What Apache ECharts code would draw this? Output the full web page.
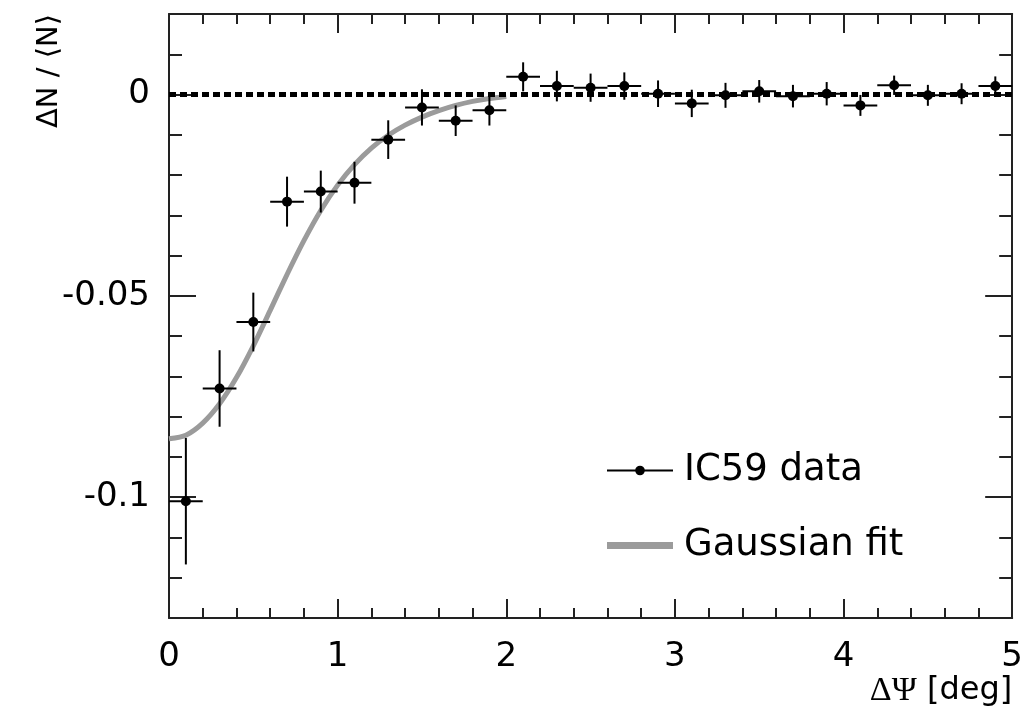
<!DOCTYPE html>
<html>
<head>
<meta charset="utf-8">
<script src="https://cdn.jsdelivr.net/npm/echarts@6/dist/echarts.min.js"></script>
<style>html,body{margin:0;padding:0;background:#fff;}#c{width:1026px;height:709px;}</style>
</head>
<body>
<div id="c"></div>
<script>
// ---- data ----
const xBins = [0.1, 0.3, 0.5, 0.7, 0.9, 1.1, 1.3, 1.5, 1.7, 1.9, 2.1, 2.3, 2.5, 2.7, 2.9, 3.1, 3.3, 3.5, 3.7, 3.9, 4.1, 4.3, 4.5, 4.7, 4.9];
const yValues = [-0.101, -0.073, -0.0565, -0.0266, -0.0241, -0.0219, -0.0112, -0.0032, -0.0065, -0.0039, 0.0044, 0.0021, 0.0017, 0.0021, 0.0002, -0.0022, -0.0002, 0.0008, -0.0004, 0.0002, -0.0027, 0.0023, -0.0002, 0.0002, 0.0021];
const yErrors = [0.0157, 0.0095, 0.0073, 0.0062, 0.0052, 0.0052, 0.0048, 0.0045, 0.0038, 0.0038, 0.0036, 0.0038, 0.0035, 0.0034, 0.0033, 0.0034, 0.0031, 0.0028, 0.0028, 0.0029, 0.0026, 0.0024, 0.0026, 0.0026, 0.0024];
const binHalfWidth = 0.1;
const fitX = [0, 0.1, 0.2, 0.3, 0.4, 0.5, 0.6, 0.7, 0.8, 0.9, 1.0, 1.1, 1.2, 1.3, 1.4, 1.5, 1.6, 1.7, 1.8, 1.9, 2.0];
const fitY = [-0.0855, -0.0846, -0.0816, -0.0768, -0.0703, -0.0624, -0.0536, -0.0447, -0.0363, -0.0288, -0.0225, -0.0174, -0.0133, -0.0101, -0.0076, -0.0056, -0.0040, -0.0027, -0.0017, -0.0010, -0.0005];
const zeroLevel = 0;
const yMajorTicks = [-0.1, -0.05, 0];
const xRange = [0, 5];
const yRange = [-0.13, 0.02];

const FONT = 'DejaVu Sans';
const AX = '#222';

const chart = echarts.init(document.getElementById('c'), null, {renderer: 'canvas'});

const yBase = {type: 'value', min: yRange[0], max: yRange[1], splitLine: {show: false}};
const option = {
  backgroundColor: '#fff',
  animation: false,
  grid: {left: 169, right: 10, top: 14, bottom: 91, containLabel: false},
  legend: {
    orient: 'vertical', left: 601, top: 447, itemWidth: 66, itemHeight: 12, itemGap: 38,
    selectedMode: false,
    textStyle: {fontSize: 37, fontFamily: FONT, color: '#000', padding: [0, 0, 0, 6]},
    data: [
      {name: 'IC59 data', lineStyle: {width: 2, opacity: 1, color: '#000'}},
      {name: 'Gaussian fit', icon: 'path://M0,0 L0.01,0 M0,2.5 L66,2.5 L66,9.5 L0,9.5 Z M0,12 L0.01,12', itemStyle: {color: '#9b9b9b'}}
    ]
  },
  xAxis: [
    {
      type: 'value', min: xRange[0], max: xRange[1], interval: 1, position: 'bottom',
      axisLine: {show: true, onZero: false, lineStyle: {color: AX, width: 2}},
      axisTick: {show: true, inside: true, length: 19, lineStyle: {color: AX, width: 2}},
      minorTick: {show: true, splitNumber: 5, length: 10, lineStyle: {color: AX, width: 2}},
      axisLabel: {fontSize: 34, fontFamily: FONT, color: '#000', margin: 22, showMinLabel: true, showMaxLabel: true},
      splitLine: {show: false},
      name: '{s|ΔΨ}{n| [deg]}', nameLocation: 'end', nameGap: 0,
      nameTextStyle: {
        align: 'right', verticalAlign: 'top', padding: [56, 0, 0, 0], color: '#000', fontSize: 32, fontFamily: FONT,
        rich: {
          s: {fontSize: 34, fontFamily: 'Liberation Serif', color: '#000'},
          n: {fontSize: 32, fontFamily: FONT, color: '#000'}
        }
      }
    },
    {
      type: 'value', min: xRange[0], max: xRange[1], interval: 1, position: 'top',
      axisLine: {show: true, onZero: false, lineStyle: {color: AX, width: 2}},
      axisTick: {show: true, inside: true, length: 19, lineStyle: {color: AX, width: 2}},
      minorTick: {show: true, splitNumber: 5, length: 10, lineStyle: {color: AX, width: 2}},
      axisLabel: {show: false}, splitLine: {show: false}
    }
  ],
  yAxis: [
    Object.assign({}, yBase, {
      position: 'left',
      axisLine: {show: true, onZero: false, lineStyle: {color: AX, width: 2}},
      axisTick: {show: true, inside: true, length: 27, customValues: yMajorTicks, lineStyle: {color: AX, width: 2}},
      axisLabel: {customValues: yMajorTicks, fontSize: 34, fontFamily: FONT, color: '#000', margin: 19},
      name: 'ΔN / ⟨N⟩', nameLocation: 'end', nameGap: 0, nameRotate: 90,
      nameTextStyle: {fontSize: 29, fontFamily: FONT, color: '#000', align: 'right', verticalAlign: 'bottom', padding: [0, 0, 105, 0]}
    }),
    Object.assign({}, yBase, {
      position: 'left', interval: 0.01,
      axisLine: {show: false, onZero: false},
      axisTick: {show: true, inside: true, length: 13, lineStyle: {color: AX, width: 2}},
      axisLabel: {show: false}
    }),
    Object.assign({}, yBase, {
      position: 'right',
      axisLine: {show: true, onZero: false, lineStyle: {color: AX, width: 2}},
      axisTick: {show: true, inside: true, length: 27, customValues: yMajorTicks, lineStyle: {color: AX, width: 2}},
      axisLabel: {show: false}
    }),
    Object.assign({}, yBase, {
      position: 'right', interval: 0.01,
      axisLine: {show: false, onZero: false},
      axisTick: {show: true, inside: true, length: 13, lineStyle: {color: AX, width: 2}},
      axisLabel: {show: false}
    })
  ],
  series: [
    {
      name: 'Gaussian fit', type: 'line', xAxisIndex: 0, yAxisIndex: 0,
      data: fitX.map((x, i) => [x, fitY[i]]),
      symbol: 'none', showSymbol: false, smooth: 0.25,
      lineStyle: {color: '#9b9b9b', width: 5}, itemStyle: {color: '#9b9b9b'}, z: 2
    },
    {
      name: 'errors', type: 'custom', xAxisIndex: 0, yAxisIndex: 0,
      data: xBins.map((x, i) => [x, yValues[i], yErrors[i]]),
      encode: {x: 0, y: 1},
      renderItem: function (params, api) {
        const x = api.value(0), y = api.value(1), e = api.value(2);
        const pL = api.coord([x - binHalfWidth, y]);
        const pR = api.coord([x + binHalfWidth, y]);
        const pT = api.coord([x, y + e]);
        const pB = api.coord([x, y - e]);
        return {
          type: 'group',
          children: [
            {type: 'line', shape: {x1: pL[0], y1: pL[1], x2: pR[0], y2: pR[1]}, style: {stroke: '#000', lineWidth: 2}},
            {type: 'line', shape: {x1: pT[0], y1: pT[1], x2: pB[0], y2: pB[1]}, style: {stroke: '#000', lineWidth: 2}}
          ]
        };
      },
      z: 3
    },
    {
      name: 'IC59 data', type: 'line', xAxisIndex: 0, yAxisIndex: 0,
      data: xBins.map((x, i) => [x, yValues[i]]),
      symbol: 'circle', symbolSize: 10, showAllSymbol: true,
      itemStyle: {color: '#000'},
      lineStyle: {color: '#000', width: 2, opacity: 0},
      z: 4
    },
    {
      name: 'baseline', type: 'line', xAxisIndex: 0, yAxisIndex: 0, data: [],
      markLine: {
        silent: true, symbol: ['none', 'none'], label: {show: false},
        lineStyle: {color: '#000', width: 5, type: [7, 4], cap: 'butt'},
        data: [{yAxis: zeroLevel}]
      },
      z: 10
    }
  ]
};
chart.setOption(option);
</script>
</body>
</html>
